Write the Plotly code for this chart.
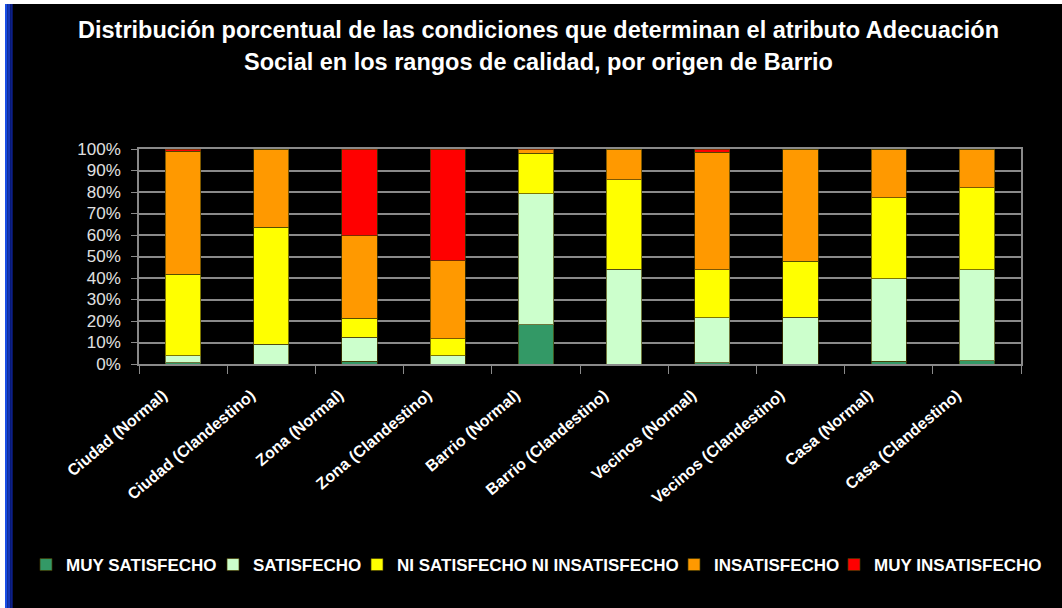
import plotly.graph_objects as go

categories = ["Ciudad (Normal)", "Ciudad (Clandestino)", "Zona (Normal)", "Zona (Clandestino)",
              "Barrio (Normal)", "Barrio (Clandestino)", "Vecinos (Normal)", "Vecinos (Clandestino)",
              "Casa (Normal)", "Casa (Clandestino)"]

muy_satisfecho = [0.5, 0.0, 1.2, 0.0, 18.2, 0.0, 0.5, 0.0, 1.2, 1.5]
satisfecho = [3.4, 9.3, 11.3, 3.9, 60.9, 44.1, 21.0, 21.8, 38.4, 42.4]
ni_ni = [37.9, 54.3, 8.8, 7.8, 19.0, 41.6, 22.3, 26.0, 37.8, 38.0]
insatisfecho = [57.1, 36.4, 38.4, 36.3, 1.6, 14.3, 54.8, 52.2, 22.6, 18.1]
muy_insatisfecho = [1.1, 0.0, 40.3, 52.0, 0.3, 0.0, 1.4, 0.0, 0.0, 0.0]

series_names = ["MUY SATISFECHO", "SATISFECHO", "NI SATISFECHO NI INSATISFECHO",
                "INSATISFECHO", "MUY INSATISFECHO"]
series_values = [muy_satisfecho, satisfecho, ni_ni, insatisfecho, muy_insatisfecho]
colors = ["#339966", "#CCFFCC", "#FFFF00", "#FF9900", "#FF0000"]

y_ticks = [0, 10, 20, 30, 40, 50, 60, 70, 80, 90, 100]
y_tick_labels = [f"{v}%" for v in y_ticks]

title_lines = ["Distribución porcentual de las condiciones que determinan el atributo Adecuación",
               "Social en los rangos de calidad, por origen de Barrio"]

W, H = 1062, 608
L, R, T, B = 139, 41, 149, 244
PW, PH = W - L - R, H - T - B


def px_x(x):
    return (x - L) / PW


def px_y(y):
    return 1 - (y - T) / PH


font_fam = "Liberation Sans, Arial, sans-serif"
legend_ids = ["legend", "legend2", "legend3", "legend4", "legend5"]
legend_left = [26, 213, 357, 674, 834]

fig = go.Figure()
for name, vals, col, lid in zip(series_names, series_values, colors, legend_ids):
    fig.add_trace(go.Bar(
        x=categories, y=vals, name=name, legend=lid,
        marker=dict(color=col, line=dict(color="rgba(70,60,0,0.7)", width=1)),
    ))

legend_cfg = {}
for lid, xl in zip(legend_ids, legend_left):
    legend_cfg[lid] = dict(
        orientation="h", xref="container", yref="container",
        x=xl / W, xanchor="left", y=1 - 565 / H, yanchor="middle",
        font=dict(family=font_fam, size=17, color="white", weight="bold"),
        bgcolor="rgba(0,0,0,0)", itemwidth=30,
    )

fig.update_layout(
    barmode="stack",
    bargap=0.6,
    width=W, height=H,
    paper_bgcolor="white", plot_bgcolor="black",
    margin=dict(l=L, r=R, t=T, b=B, autoexpand=False),
    showlegend=True,
    **legend_cfg,
)

# slide background: black area with white edge at top/left and a blue strip
fig.add_shape(type="rect", xref="paper", yref="paper",
              x0=px_x(5), x1=px_x(W + 2), y0=px_y(H + 2), y1=px_y(4),
              fillcolor="black", line=dict(width=0), layer="below")
for xa, xb, c in [(5, 7.6, "#1a4ee6"), (7.6, 10.2, "#1436b8"), (10.2, 12.7, "#0c1f88")]:
    fig.add_shape(type="rect", xref="paper", yref="paper",
                  x0=px_x(xa), x1=px_x(xb), y0=px_y(H + 2), y1=px_y(4),
                  fillcolor=c, line=dict(width=0), layer="below")

for line, yc in zip(title_lines, [30, 62]):
    fig.add_annotation(text=f"<b>{line}</b>", xref="paper", yref="paper",
                       x=px_x(538), y=px_y(yc), xanchor="center", yanchor="middle",
                       showarrow=False,
                       font=dict(family=font_fam, size=23.5, color="white"))

fig.update_yaxes(
    range=[0, 100], tickvals=y_ticks, ticktext=y_tick_labels,
    showgrid=True, gridcolor="#8a8a8a", gridwidth=1.5,
    showline=True, linecolor="#8a8a8a", linewidth=1.5, mirror=True,
    ticks="outside", ticklen=6, tickcolor="#8a8a8a", ticklabelstandoff=7,
    tickfont=dict(family=font_fam, size=17, color="#e0e0e0"),
    zeroline=False,
)
fig.update_xaxes(
    tickangle=-40, tickson="boundaries", ticks="outside", ticklen=8, tickcolor="#8a8a8a",
    showline=True, linecolor="#8a8a8a", linewidth=1.5, mirror=True,
    ticklabelshift=-20, ticklabelstandoff=14,
    tickfont=dict(family=font_fam, size=16, color="white", weight="bold"),
)

fig.write_html("out.html",
               config={"displayModeBar": False},
               post_script="document.body.style.margin='0';document.body.style.overflow='hidden';")
